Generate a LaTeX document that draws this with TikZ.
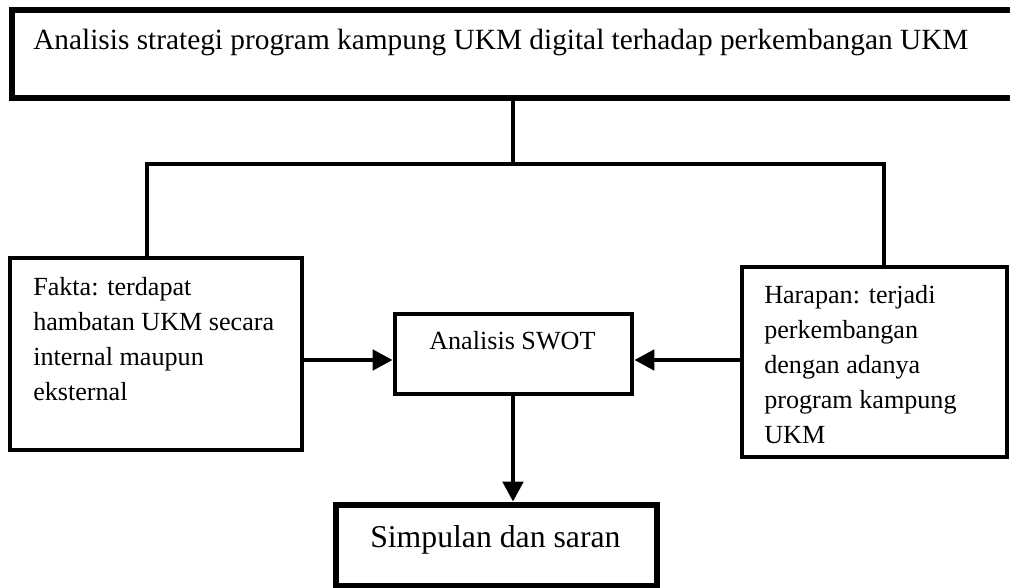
\documentclass[tikz,border=0pt]{standalone}
\usepackage{fontspec}
\setmainfont{Liberation Serif}
\usetikzlibrary{arrows.meta,fit}
\begin{document}
\begin{tikzpicture}[x=0.75pt,y=-0.75pt,
  frame/.style={draw,line width=3.5pt,inner sep=0pt},
  link/.style={line width=3.5pt},
  arr/.style={link,-{Triangle[length=15pt,width=15pt]}},
  txt/.style={inner sep=0pt,align=left,anchor=base west,
    font=\fontsize{19.6pt}{26.25pt}\selectfont},
]
\useasboundingbox[fill=white] (0,0) rectangle (1010,588);

% boxes
\node[frame,line width=4pt,fit={(12,10) (1013,98)}] (top) {};
\node[frame,fit={(10,258) (302,450)}] (fakta) {};
\node[frame,fit={(395,314) (632,394)}] (swot) {};
\node[frame,fit={(742,267) (1007,457)}] (harapan) {};
\node[frame,line width=5pt,fit={(336,505) (657,586)}] (simpul) {};

% texts (multi-line nodes are placed by the baseline of their last line)
\node[txt,font=\fontsize{22pt}{26pt}\selectfont] (ttop) at (33,50)
  {Analisis strategi program kampung UKM digital terhadap perkembangan UKM};
\node[txt] (tfakta) at (33,400)
  {Fakta: terdapat\\hambatan UKM secara\\internal maupun\\eksternal};
\node[txt] (tswot) at (429,349) {Analisis SWOT};
\node[txt] (tharapan) at (764,443)
  {Harapan: terjadi\\perkembangan\\dengan adanya\\program kampung\\UKM};
\node[txt,font=\fontsize{23.8pt}{28pt}\selectfont] (tsimpul) at (370,547)
  {Simpulan dan saran};

% connectors
\coordinate (barL) at (147,164);
\coordinate (barR) at (884,164);
\coordinate (mid) at (513,164);
\coordinate (row) at (0,360);
\draw[link] (top.south -| mid) -- (mid);
\draw[link] (fakta.north -| barL) -- (barL) -- (barR) -- (harapan.north -| barR);
\draw[arr] (fakta.east |- row) -- (swot.west |- row);
\draw[arr] (harapan.west |- row) -- (swot.east |- row);
\draw[arr] (swot.south -| mid) -- (simpul.north -| mid);
\end{tikzpicture}
\end{document}
